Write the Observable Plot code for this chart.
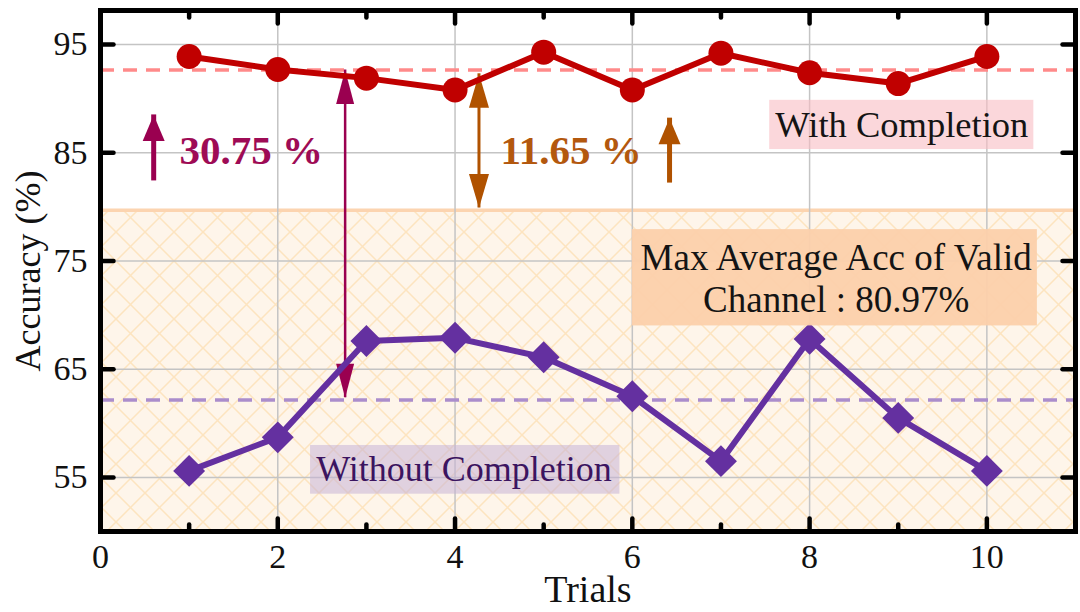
<!DOCTYPE html>
<html>
<head>
<meta charset="utf-8">
<script src="https://cdn.jsdelivr.net/npm/d3@7"></script>
<script src="https://cdn.jsdelivr.net/npm/@observablehq/plot@0.6"></script>
<style>
  html, body { margin: 0; padding: 0; background: #fff; }
  #chart { width: 1080px; height: 612px; }
</style>
</head>
<body>
<div id="chart"></div>
<script>
// ---------- data ----------
const trials = [1, 2, 3, 4, 5, 6, 7, 8, 9, 10];
const withCompletion = [93.9, 92.7, 91.9, 90.8, 94.3, 90.8, 94.2, 92.4, 91.4, 93.9];
const withoutCompletion = [55.6, 58.7, 67.6, 67.9, 66.1, 62.5, 56.5, 67.8, 60.5, 55.6];
const meanWith = 92.65;
const meanWithout = 62.15;
const validBandTop = 79.7;

const xDomain = [0, 11];
const yDomain = [50, 98.15];
const xTicks = [0, 2, 4, 6, 8, 10];
const xMinorTicks = [1, 3, 5, 7, 9];
const yTicks = [55, 65, 75, 85, 95];

// annotation arrows: x, y1 (bottom) .. y2 (top), heads
const arrows = [
  { x: 0.6, y1: 82.4, y2: 88.5, color: "#9a0050", width: 5, heads: ["up"], hw: 22, hh: 26 },
  { x: 2.76, y1: 62.35, y2: 92.65, color: "#9a0050", width: 2.5, heads: ["up", "down"], hw: 18, hh: 34 },
  { x: 4.27, y1: 79.9, y2: 92.3, color: "#b05200", width: 3, heads: ["up", "down"], hw: 20, hh: 34 },
  { x: 6.42, y1: 82.2, y2: 88.2, color: "#b05200", width: 5, heads: ["up"], hw: 22, hh: 26 }
];

const labelBoxes = [
  { x1: 7.55, x2: 10.53, y1: 85.3, y2: 89.85, fill: "#f8bcc3", opacity: 0.6 },
  { x1: 6.0, x2: 10.57, y1: 69.0, y2: 77.9, fill: "#fcd0ab", opacity: 0.95 },
  { x1: 2.37, x2: 5.86, y1: 53.45, y2: 57.95, fill: "#c7b3d6", opacity: 0.55 }
];

const labels = [
  { x: 9.04, y: 87.5, text: "With Completion", color: "#141414", size: 36.5, weight: "normal" },
  { x: 8.3, y: 75.3, text: "Max Average Acc of Valid", color: "#141414", size: 37, weight: "normal" },
  { x: 8.3, y: 71.4, text: "Channel : 80.97%", color: "#141414", size: 37, weight: "normal" },
  { x: 4.1, y: 55.7, text: "Without Completion", color: "#3b1460", size: 36, weight: "normal" },
  { x: 1.7, y: 85.2, text: "30.75 %", color: "#9e0b55", size: 41, weight: "bold" },
  { x: 5.31, y: 85.2, text: "11.65 %", color: "#b3580e", size: 41, weight: "bold" }
];

// ---------- helpers ----------
const withData = trials.map((t, i) => ({ trial: t, acc: withCompletion[i] }));
const withoutData = trials.map((t, i) => ({ trial: t, acc: withoutCompletion[i] }));

const diamond = { draw(ctx, size) { const d = Math.sqrt(size); ctx.moveTo(0, -d); ctx.lineTo(d, 0); ctx.lineTo(0, d); ctx.lineTo(-d, 0); ctx.closePath(); } };
function head(dir, w, h) {
  return { draw(ctx) { const s = dir === "up" ? 1 : -1; ctx.moveTo(0, 0); ctx.lineTo(-w / 2, s * h); ctx.lineTo(w / 2, s * h); ctx.closePath(); } };
}
const tickLine = { draw(ctx, l) { ctx.moveTo(0, 0); ctx.lineTo(0, -l); } };

const arrowMarks = [];
for (const a of arrows) {
  arrowMarks.push(Plot.ruleX([a], { x: "x", y1: "y1", y2: "y2", stroke: a.color, strokeWidth: a.width }));
  for (const hd of a.heads) {
    arrowMarks.push(Plot.dot([a], { x: "x", y: hd === "up" ? "y2" : "y1", symbol: head(hd, a.hw, a.hh), fill: a.color, stroke: "none" }));
  }
}

const tickMarks = [
  Plot.vector(xTicks, { x: d => d, y: yDomain[0], length: 13, rotate: 0, anchor: "start", shape: tickLine, stroke: "black", strokeWidth: 4.5 }),
  Plot.vector(xMinorTicks, { x: d => d, y: yDomain[0], length: 7, rotate: 0, anchor: "start", shape: tickLine, stroke: "black", strokeWidth: 4.5 }),
  Plot.vector(xTicks, { x: d => d, y: yDomain[1], length: 13, rotate: 180, anchor: "start", shape: tickLine, stroke: "black", strokeWidth: 4.5 }),
  Plot.vector(xMinorTicks, { x: d => d, y: yDomain[1], length: 7, rotate: 180, anchor: "start", shape: tickLine, stroke: "black", strokeWidth: 4.5 }),
  Plot.vector(yTicks, { y: d => d, x: xDomain[0], length: 13, rotate: 90, anchor: "start", shape: tickLine, stroke: "black", strokeWidth: 4.5 }),
  Plot.vector(yTicks, { y: d => d, x: xDomain[1], length: 13, rotate: -90, anchor: "start", shape: tickLine, stroke: "black", strokeWidth: 4.5 })
];

const chart = Plot.plot({
  width: 1080,
  height: 612,
  marginLeft: 100,
  marginRight: 5,
  marginTop: 10,
  marginBottom: 81,
  style: { fontFamily: "'Liberation Serif', 'Times New Roman', serif", fontSize: "34px", background: "#fff", color: "#111" },
  x: { domain: xDomain, ticks: xTicks, tickSize: 0, tickPadding: 12, label: null },
  y: { domain: yDomain, ticks: yTicks, tickSize: 0, tickPadding: 13, label: null },
  marks: [
    Plot.rect([{ x1: xDomain[0], x2: xDomain[1], y1: yDomain[0], y2: validBandTop }], { x1: "x1", x2: "x2", y1: "y1", y2: "y2", fill: "url(#hatch)" }),
    Plot.ruleY([validBandTop], { stroke: "#fcd4b0", strokeWidth: 3.5 }),
    Plot.ruleX(xTicks.slice(1), { stroke: "#c4c4c4", strokeWidth: 1.5 }),
    Plot.ruleY(yTicks, { stroke: "#c4c4c4", strokeWidth: 1.5 }),
    Plot.ruleY([meanWith], { stroke: "#ff8a8a", strokeWidth: 3.5, strokeDasharray: "14,9" }),
    Plot.ruleY([meanWithout], { stroke: "#ab8dcc", strokeWidth: 3.5, strokeDasharray: "14,9" }),
    ...arrowMarks,
    Plot.line(withData, { x: "trial", y: "acc", stroke: "#c00000", strokeWidth: 6 }),
    Plot.dot(withData, { x: "trial", y: "acc", r: 12.5, fill: "#c00000", stroke: "none" }),
    Plot.line(withoutData, { x: "trial", y: "acc", stroke: "#6430a0", strokeWidth: 6 }),
    Plot.dot(withoutData, { x: "trial", y: "acc", r: 9, symbol: diamond, fill: "#6430a0", stroke: "none" }),
    Plot.rect(labelBoxes, { x1: "x1", x2: "x2", y1: "y1", y2: "y2", fill: "fill", fillOpacity: "opacity" }),
    ...labels.map(l => Plot.text([l], { x: "x", y: "y", text: "text", fill: l.color, fontSize: l.size, fontWeight: l.weight })),
    Plot.text(["Trials"], { frameAnchor: "bottom", dy: 70, fontSize: 38, fill: "#111" }),
    Plot.text(["Accuracy (%)"], { frameAnchor: "left", textAnchor: "middle", lineAnchor: "middle", dx: -72, rotate: -90, fontSize: 36, fill: "#111" }),
    ...tickMarks,
    Plot.frame({ stroke: "black", strokeWidth: 5 })
  ]
});

// hatch pattern definition for the valid-channel band
const defs = d3.select(chart).insert("defs", ":first-child");
const pat = defs.append("pattern").attr("id", "hatch").attr("patternUnits", "userSpaceOnUse").attr("width", 29).attr("height", 29);
pat.append("rect").attr("width", 29).attr("height", 29).attr("fill", "#fef5ea");
pat.append("path").attr("d", "M0,0L29,29M29,0L0,29M-1,28L1,30M28,-1L30,1").attr("stroke", "#fde4bf").attr("stroke-width", 1.5);

document.getElementById("chart").appendChild(chart);
</script>
</body>
</html>
